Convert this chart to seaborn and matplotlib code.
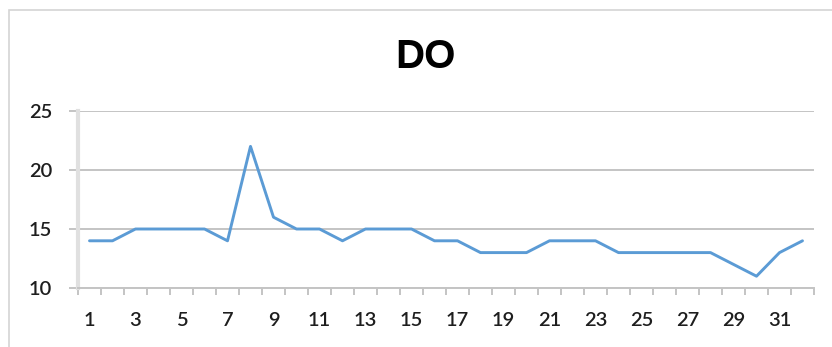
import matplotlib
matplotlib.use("Agg")
import matplotlib.pyplot as plt
import seaborn as sns
import pandas as pd
from matplotlib.patches import Rectangle

# Daily dissolved-oxygen readings
days = list(range(1, 33))
do_values = [14, 14, 15, 15, 15, 15, 14, 22, 16, 15, 15, 14, 15, 15, 15, 14,
             14, 13, 13, 13, 14, 14, 14, 13, 13, 13, 13, 13, 12, 11, 13, 14]
y_ticks = [10, 15, 20, 25]
x_labels = list(range(1, 33, 2))
title = "DO"

df = pd.DataFrame({"day": days, "DO": do_values})

sns.set_theme(style="white")
plt.rcParams["font.family"] = ["Lato", "DejaVu Sans"]

fig = plt.figure(figsize=(8.32, 3.47), dpi=100)
fig.patch.set_facecolor("white")

# chart-area border (extends past the right and bottom edges)
fig.patches.append(Rectangle((9 / 832, -0.2), 1.2, (347 - 10) / 347 + 0.2,
                             transform=fig.transFigure, fill=False,
                             edgecolor="#D4D4D4", linewidth=1.2))

ax = fig.add_axes([78 / 832, 59 / 347, (814 - 78) / 832, (288 - 111) / 347])
sns.lineplot(data=df, x="day", y="DO", ax=ax, color="#5B9BD5", linewidth=2.1)

ax.set_xlim(0.5, 32.5)
ax.set_ylim(10, 25)
ax.set_xlabel("")
ax.set_ylabel("")

# y axis: gridlines and outward ticks
ax.set_yticks(y_ticks)
ax.yaxis.grid(True, color="#C4C4C4", linewidth=1.4)
ax.tick_params(axis="y", which="major", left=True, length=6.5, width=1.4,
               color="#C4C4C4", pad=12, labelsize=14.5, labelcolor="#1E1E1E")

# x axis: tick marks at category boundaries, labels at odd days
ax.set_xticks([d - 0.5 for d in days] + [32.5])
ax.set_xticklabels([])
ax.set_xticks(x_labels, minor=True)
ax.set_xticklabels([str(v) for v in x_labels], minor=True)
ax.tick_params(axis="x", which="major", bottom=True, length=5, width=1.4,
               color="#C4C4C4")
ax.tick_params(axis="x", which="minor", bottom=True, length=0, pad=17,
               labelsize=14.5, labelcolor="#1E1E1E")
for lbl in ax.get_yticklabels() + ax.get_xticklabels(minor=True):
    lbl.set_fontweight("semibold")

for side in ["top", "right"]:
    ax.spines[side].set_visible(False)
ax.spines["bottom"].set_color("#C4C4C4")
ax.spines["bottom"].set_linewidth(1.4)
ax.spines["left"].set_color("#E0E0E0")
ax.spines["left"].set_linewidth(3)

fig.text(426 / 832, (347 - 68) / 347, title, ha="center", va="baseline",
         fontsize=29, fontweight="bold", color="black",
         family=["Liberation Sans", "DejaVu Sans"])

fig.savefig("out.png", dpi=100, facecolor="white")
